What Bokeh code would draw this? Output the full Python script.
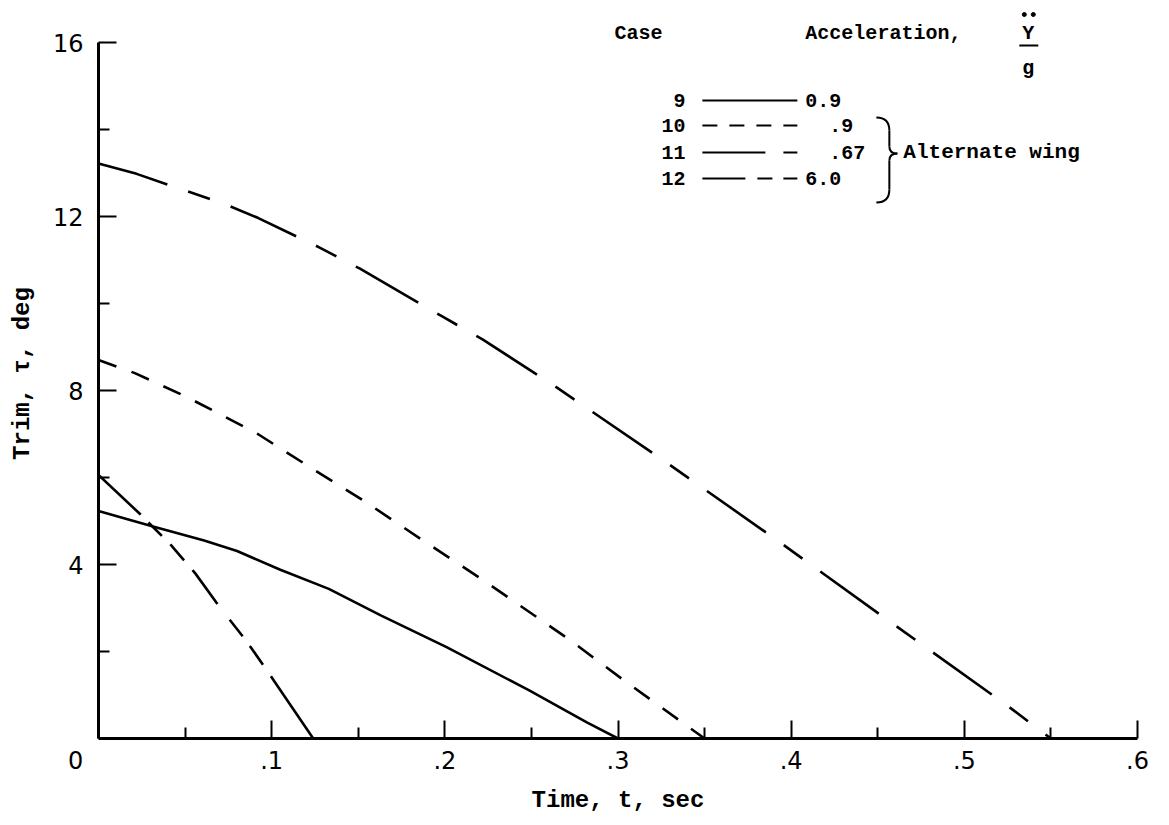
from bokeh.plotting import figure
from bokeh.models import Range1d, FixedTicker, ColumnDataSource
from bokeh.embed import file_html
from bokeh.resources import INLINE
from bokeh.core.properties import value

# ---------------- data ----------------
t_case9 = [0.0, 0.032, 0.061, 0.080, 0.105, 0.133, 0.163, 0.201, 0.249, 0.282, 0.300]
trim_case9 = [5.23, 4.87, 4.55, 4.31, 3.88, 3.44, 2.83, 2.10, 1.10, 0.37, 0.0]

t_case10 = [0.0, 0.021, 0.051, 0.069, 0.092, 0.122, 0.153, 0.186, 0.2225, 0.272, 0.305, 0.350]
trim_case10 = [8.70, 8.40, 7.85, 7.48, 7.00, 6.24, 5.47, 4.59, 3.63, 2.27, 1.29, 0.0]

t_case11 = [0.0, 0.024, 0.042, 0.056, 0.070, 0.086, 0.102, 0.124]
trim_case11 = [6.06, 5.16, 4.44, 3.79, 3.02, 2.21, 1.29, 0.0]

t_case12 = [0.0, 0.022, 0.049, 0.072, 0.092, 0.128, 0.151, 0.199, 0.222, 0.265,
            0.326, 0.390, 0.452, 0.525, 0.550]
trim_case12 = [13.22, 12.98, 12.61, 12.30, 11.97, 11.28, 10.80, 9.69, 9.17, 8.06,
               6.40, 4.61, 2.83, 0.75, 0.0]

case_names = ["9", "10", "11", "12"]
accel_values = ["0.9", ".9", ".67", "6.0"]
group_note = "Alternate wing"

x_ticks = [0.0, 0.1, 0.2, 0.3, 0.4, 0.5, 0.6]
x_tick_labels = ["0", ".1", ".2", ".3", ".4", ".5", ".6"]
x_minor = [0.05, 0.15, 0.25, 0.35, 0.45, 0.55]
y_ticks = [4, 8, 12, 16]
y_tick_labels = ["4", "8", "12", "16"]
y_minor = [2, 6, 10, 14]

# ---------------- styles ----------------
curve_dash = {"9": "solid", "10": "19 16",
              "11": "58 11 19 12 21 13 42 20 21 12 23 14 80",
              "12": "72 22 23 22"}
legend_dash = {"9": "solid", "10": "15 12", "11": "63 18 14 40", "12": "43 12 15 11 14 40"}

MONO = value("Liberation Mono")
NBSP = "\u00a0"

# frame geometry (page pixels) used only to place the legend decorations
FRAME_LEFT_PX, FRAME_BOTTOM_PX = 98.0, 738.0
PX_PER_T, PX_PER_TRIM = 1732.0, 43.5
FRAME_W, FRAME_H = 1039, 730


def tx(px):
    return (px - FRAME_LEFT_PX) / PX_PER_T


def ty(py):
    return (FRAME_BOTTOM_PX - py) / PX_PER_TRIM


p = figure(frame_width=FRAME_W, frame_height=FRAME_H,
           x_range=Range1d(0, 0.6), y_range=Range1d(0, FRAME_H / PX_PER_TRIM),
           output_backend="svg", toolbar_location=None,
           min_border_left=98, min_border_right=20, min_border_top=8, min_border_bottom=70)
p.outline_line_color = None
p.grid.visible = False
p.background_fill_color = "white"

# axes
for ax in (p.xaxis[0], p.yaxis[0]):
    ax.axis_line_width = 3
    ax.axis_line_color = "black"
    ax.major_tick_line_width = 2
    ax.minor_tick_line_width = 2
    ax.major_tick_out = 0
    ax.minor_tick_out = 0
    ax.major_tick_in = 18
    ax.minor_tick_in = 11
    ax.major_label_text_font = "DejaVu Sans"
    ax.major_label_text_font_size = "24px"
    ax.major_label_text_color = "black"
    ax.axis_label_text_font = "Liberation Mono"
    ax.axis_label_text_font_style = "bold"
    ax.axis_label_text_font_size = "24px"
    ax.axis_label_text_color = "black"

x_labels_shown = [lab + NBSP * 6 if lab == "0" else lab for lab in x_tick_labels]
p.xaxis.ticker = FixedTicker(ticks=x_ticks, minor_ticks=x_minor)
p.xaxis.major_label_overrides = dict(zip(x_ticks, x_labels_shown))
p.xaxis.major_label_standoff = 8
p.xaxis.axis_label = "Time, t, sec"
p.xaxis.axis_label_standoff = 9

p.yaxis.ticker = FixedTicker(ticks=y_ticks, minor_ticks=y_minor)
p.yaxis.major_label_overrides = dict(zip(y_ticks, y_tick_labels))
p.yaxis.major_label_standoff = 15
p.yaxis.axis_label = "Trim, \u03c4, deg"
p.yaxis.axis_label_standoff = 14
p.yaxis.bounds = (0, 16)

# curves
series = {"9": (t_case9, trim_case9), "10": (t_case10, trim_case10),
          "11": (t_case11, trim_case11), "12": (t_case12, trim_case12)}
for name, (tt, vv) in series.items():
    p.line(tt, vv, line_color="black", line_width=2.6, line_dash=curve_dash[name],
           line_cap="butt", line_join="round")

# ---------------- legend block ----------------
row_py = [100, 125, 152, 178]
TXT = dict(text_font=MONO, text_font_size="20px", text_font_style="bold",
           text_baseline="middle", text_color="black")
p.text(x=[tx(614)], y=[ty(33)], text=["Case"], text_align="left", **TXT)
p.text(x=[tx(805)], y=[ty(33)], text=["Acceleration,"], text_align="left", **TXT)
p.text(x=[tx(1028)], y=[ty(33)], text=["Y"], text_align="center", **TXT)
p.scatter(x=[tx(1024), tx(1033)], y=[ty(14), ty(14)], size=4, color="black")
p.segment(x0=[tx(1019)], y0=[ty(45)], x1=[tx(1038)], y1=[ty(45)], line_color="black", line_width=2)
p.text(x=[tx(1028)], y=[ty(68)], text=["g"], text_align="center", **TXT)

case_src = ColumnDataSource(dict(x=[tx(685)] * 4, y=[ty(v) for v in row_py], text=case_names))
p.text(x="x", y="y", text="text", source=case_src, text_align="right", **TXT)
val_x = [tx(805), tx(829), tx(829), tx(805)]
val_src = ColumnDataSource(dict(x=val_x, y=[ty(v) for v in row_py], text=accel_values))
p.text(x="x", y="y", text="text", source=val_src, text_align="left", **TXT)

for name, py in zip(case_names, row_py):
    p.line([tx(702), tx(797)], [ty(py), ty(py)], line_color="black", line_width=2,
           line_dash=legend_dash[name], line_cap="butt")

# brace
bx0, bx1, btip = 876, 889, 897
p.bezier(x0=[tx(bx0), tx(bx1), tx(btip), tx(bx1)],
         y0=[ty(117), ty(146), ty(153), ty(189)],
         x1=[tx(bx1), tx(btip), tx(bx1), tx(bx0)],
         y1=[ty(130), ty(153), ty(160), ty(202)],
         cx0=[tx(885), tx(bx1), tx(892), tx(bx1)],
         cy0=[ty(117), ty(151), ty(153), ty(198)],
         cx1=[tx(bx1), tx(892), tx(bx1), tx(885)],
         cy1=[ty(121), ty(153), ty(155), ty(202)],
         line_color="black", line_width=2)
p.segment(x0=[tx(bx1), tx(bx1)], y0=[ty(130), ty(160)], x1=[tx(bx1), tx(bx1)], y1=[ty(146), ty(189)],
          line_color="black", line_width=2)
p.text(x=[tx(903)], y=[ty(152)], text=[group_note], text_align="left",
       **{**TXT, "text_font_size": "21px"})

open("out.html", "w").write(file_html(p, INLINE))
